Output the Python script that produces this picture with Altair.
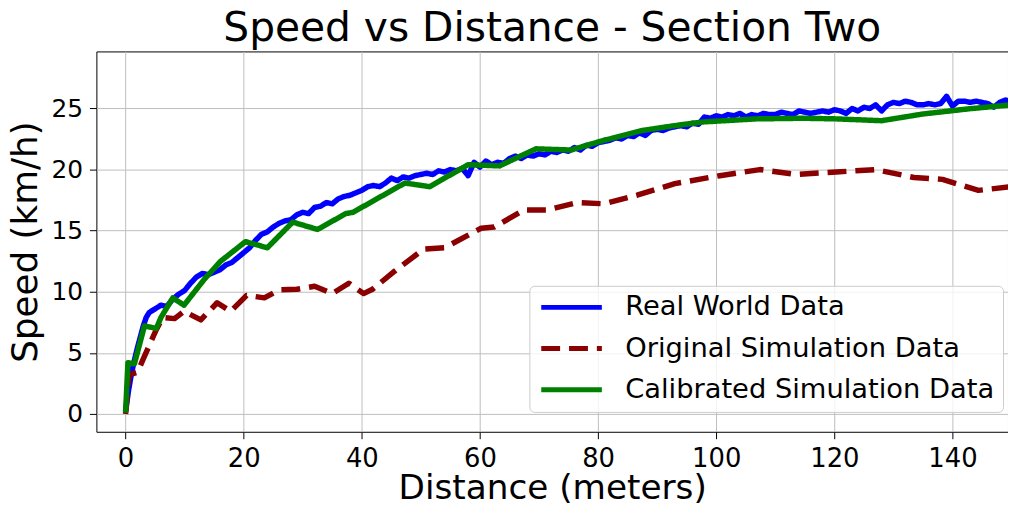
import altair as alt
import pandas as pd

SERIES = ["Real World Data", "Original Simulation Data", "Calibrated Simulation Data"]
COLORS = ["#0000ff", "#8b0000", "#008000"]

real_x = [0, 0.5, 1, 1.5, 2, 2.5, 3, 3.5, 4] + list(range(5, 151))
real_y = [0.2, 1.9, 3.3, 4.4, 5.4, 6.3, 7.2, 7.9, 8.3,
          8.6, 8.9, 8.8, 9.4, 9.8, 10.1, 10.7, 11.2, 11.5, 11.4,
          11.6, 11.8, 12.2, 12.4, 12.8, 13.2, 13.6, 14.2, 14.7, 14.9,
          15.3, 15.6, 15.8, 15.9, 16.3, 16.5, 16.4, 16.9, 17.0, 17.3,
          17.2, 17.6, 17.8, 17.9, 18.1, 18.3, 18.6, 18.7, 18.6, 18.9,
          19.3, 19.1, 19.4, 19.3, 19.5, 19.6, 19.7, 19.6, 19.9, 19.8,
          20.0, 19.9, 20.1, 19.5, 20.6, 20.2, 20.7, 20.4, 20.6, 20.5,
          20.9, 21.1, 20.9, 21.2, 21.1, 21.3, 21.2, 21.5, 21.4, 21.6,
          21.5, 21.8, 21.6, 22.0, 21.9, 22.2, 22.3, 22.4, 22.6, 22.5,
          22.8, 22.7, 23.0, 22.8, 23.2, 23.3, 23.2, 23.4, 23.5, 23.6,
          23.5, 23.8, 23.7, 24.3, 24.2, 24.4, 24.3, 24.5, 24.4, 24.6,
          24.3, 24.5, 24.4, 24.6, 24.5, 24.5, 24.7, 24.6, 24.5, 24.8,
          24.7, 24.6, 24.7, 24.8, 24.7, 24.9, 24.8, 24.6, 25.0, 24.8,
          25.1, 25.0, 25.3, 24.8, 25.3, 25.5, 25.4, 25.6, 25.5, 25.3,
          25.3, 25.4, 25.3, 25.4, 26.0, 25.2, 25.6, 25.6, 25.5, 25.6,
          25.5, 25.4, 25.1, 25.5, 25.7, 25.5]

orig_x = [0, 0.6, 2.0, 3.0, 4.0, 5.2, 6.3, 8.3, 9.9, 12.75, 15.5, 17.8, 20.5,
          23.5, 26, 29, 32, 35, 37.8, 40.3, 41.8, 45.6, 50.5, 54, 60.2, 62.4,
          67.5, 71.4, 76.5, 81, 86.6, 93, 100.6, 107.4, 113.5, 120.3, 127,
          133.5, 138.3, 144.4, 150]
orig_y = [0, 3.2, 3.4, 4.5, 5.6, 6.9, 7.9, 7.8, 8.4, 7.7, 9.1, 8.4, 9.7,
          9.5, 10.15, 10.2, 10.45, 9.85, 10.7, 9.85, 10.2, 11.7, 13.5, 13.6, 15.2, 15.3,
          16.7, 16.7, 17.3, 17.2, 17.9, 18.85, 19.5, 20.0, 19.6, 19.8, 20.0,
          19.35, 19.2, 18.3, 18.6]

cal_x = [0, 0.4, 1.5, 3.2, 5.2, 6.0, 8.0, 9.9, 13.3, 16.1, 20.3, 24, 28.3, 32.5,
         37.3, 38.5, 47.3, 51.5, 58, 63.3, 69.5, 75.4, 81, 87.5, 93, 97.8,
         106.8, 114.7, 120.3, 128, 135, 142.7, 150]
cal_y = [0.1, 4.2, 4.1, 7.2, 7.0, 7.9, 9.5, 8.9, 11.0, 12.5, 14.1, 13.6, 15.7, 15.1,
         16.4, 16.5, 18.9, 18.6, 20.4, 20.3, 21.7, 21.6, 22.4, 23.2, 23.6, 23.9,
         24.15, 24.2, 24.15, 24.0, 24.55, 24.97, 25.3]

X_TICKS = [0, 20, 40, 60, 80, 100, 120, 140]
Y_TICKS = [0, 5, 10, 15, 20, 25]

FONT = "DejaVu Sans"

df_real = pd.DataFrame({"x": real_x, "y": real_y, "series": SERIES[0]})
df_orig = pd.DataFrame({"x": orig_x, "y": orig_y, "series": SERIES[1]})
df_cal = pd.DataFrame({"x": cal_x, "y": cal_y, "series": SERIES[2]})

x_enc = alt.X("x:Q", title="Distance (meters)",
              scale=alt.Scale(domain=[-4.94, 149.4], nice=False, zero=False),
              axis=alt.Axis(values=X_TICKS, format="d", titleFontSize=34.5,
                            titleBaseline="alphabetic", titleY=67, ticks=True,
                            tickSize=7, tickWidth=1, labelPadding=7,
                            labelFontSize=26))
y_enc = alt.Y("y:Q", title="Speed (km/h)",
              scale=alt.Scale(domain=[-1.46, 29.67], nice=False, zero=False),
              axis=alt.Axis(values=Y_TICKS, format="d", titleFontSize=36,
                            titleBaseline="alphabetic", titleX=-60, ticks=True,
                            tickSize=7, tickWidth=1, labelPadding=7,
                            labelFontSize=25))

legend = alt.Legend(title=None, orient="none", legendX=436, legendY=236,
                    symbolType="M-1.6,0H8.4", symbolSize=149, symbolStrokeWidth=5,
                    labelFontSize=27.5, labelFont=FONT, labelColor="black",
                    labelLimit=600, labelOffset=61, rowPadding=12.5, padding=8,
                    fillColor="rgba(255,255,255,0.8)", strokeColor="#cccccc",
                    cornerRadius=5)

color_enc = alt.Color("series:N", scale=alt.Scale(domain=SERIES, range=COLORS),
                      legend=legend)
dash_enc = alt.StrokeDash("series:N",
                          scale=alt.Scale(domain=SERIES, range=[[1, 0], [19, 9], [1, 0]]),
                          legend=legend)


def layer(df):
    return alt.Chart(df).mark_line(strokeWidth=5.5, clip=True, strokeJoin="round").encode(
        x=x_enc, y=y_enc, color=color_enc, strokeDash=dash_enc)


chart = alt.layer(layer(df_real), layer(df_orig), layer(df_cal)).properties(
    width=918, height=383,
    background="white",
    autosize=alt.AutoSizeParams(type="none"),
    padding={"left": 89, "top": 42, "right": 0, "bottom": 71},
    title=alt.TitleParams("Speed vs Distance - Section Two", fontSize=41, font=FONT,
                          fontWeight="normal", anchor="middle",
                          offset=2, color="black"),
).configure_view(stroke="black", strokeWidth=1).configure_axis(
    labelFont=FONT, titleFont=FONT, labelColor="black",
    titleColor="black", titleFontWeight="normal", tickColor="black",
    domain=False, gridColor="#bdbdbd", gridWidth=1, gridOpacity=1,
)

chart.save("out.html", embed_options={"renderer": "svg", "actions": False})
